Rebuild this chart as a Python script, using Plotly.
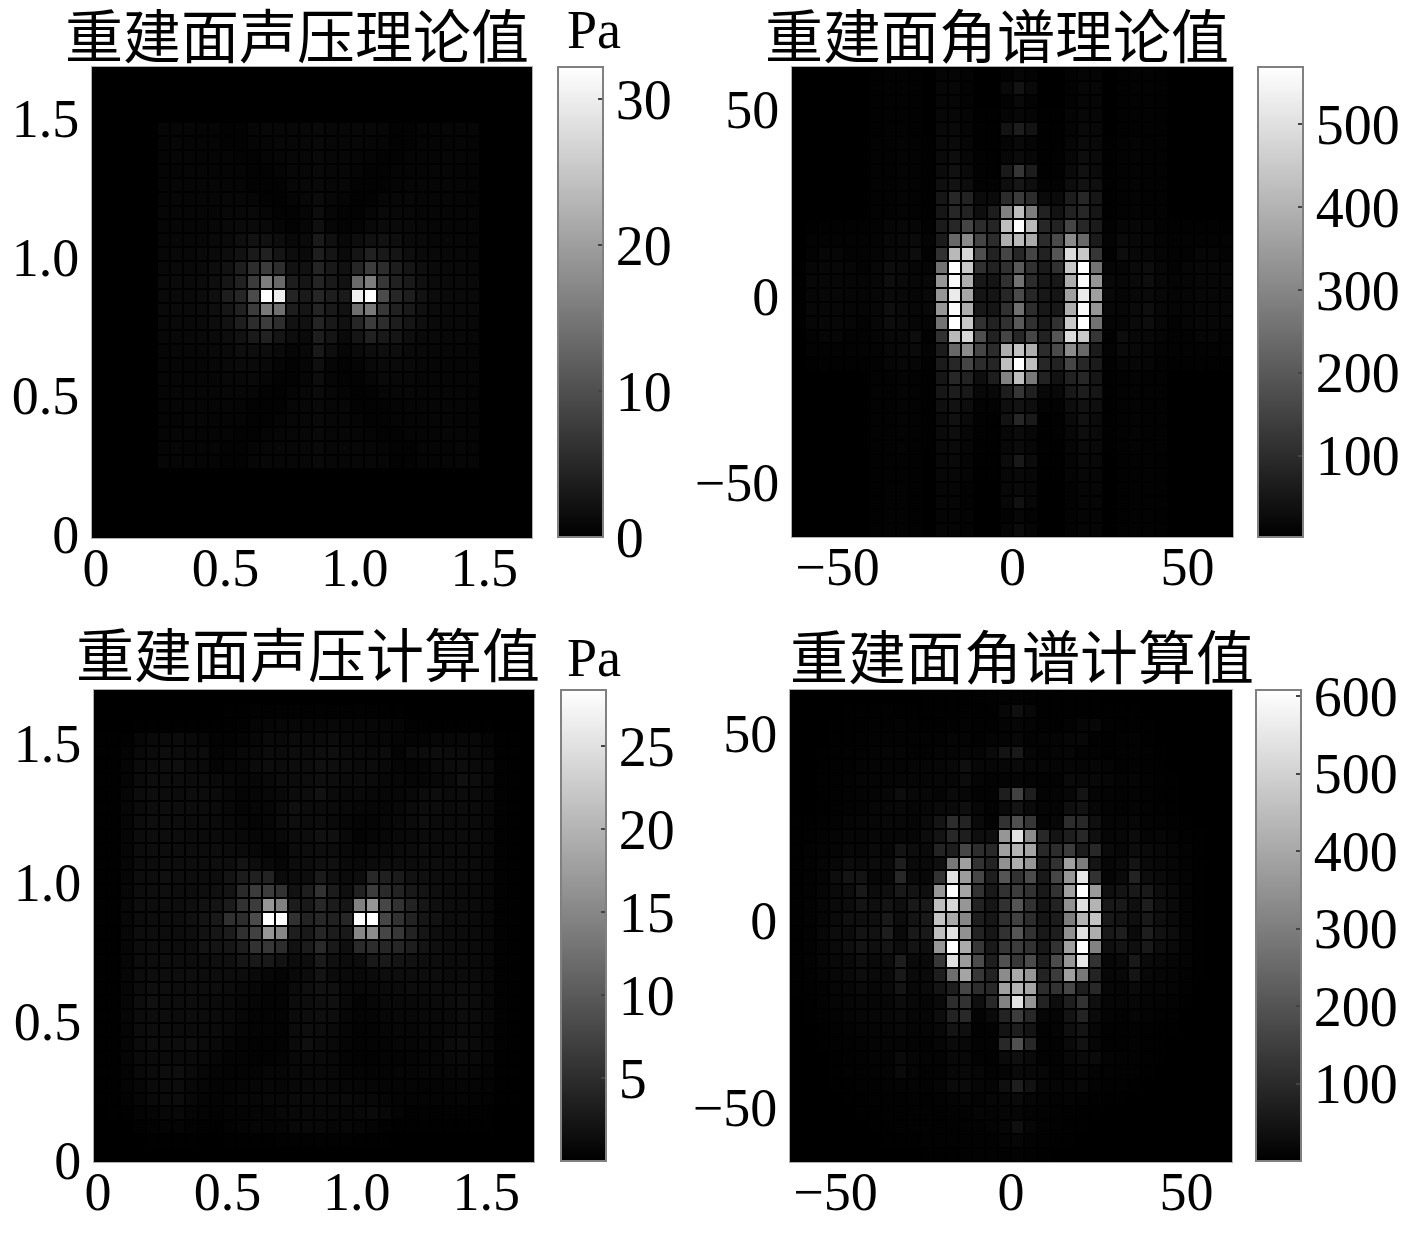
# plot.py - reconstructed sound pressure / angular spectrum maps

import plotly.graph_objects as go

W, H = 1417, 1233

# values, top row first, 34 x 34 cells
# pressure maps are in units of 0.1 Pa
PRESSURE_THEORY = [
    [0] * 34,
    [0] * 34,
    [0] * 34,
    [0] * 34,
    [0,0,0,0,0, 7,7,7,6,6,4,4,7,9,9,9,9,11,9,9,9,9,7,4,4,6,6,7,7,7, 0,0,0,0],
    [0,0,0,0,0, 6,7,6,6,6,4,4,6,7,9,9,9,11,9,9,9,7,6,4,4,6,6,6,7,6, 0,0,0,0],
    [0,0,0,0,0, 6,7,7,6,6,6,4,4,6,7,9,9,11,9,9,7,6,4,4,6,6,6,7,7,6, 0,0,0,0],
    [0,0,0,0,0, 6,6,7,7,6,6,6,4,4,6,9,9,11,9,9,6,4,4,6,6,6,7,7,6,6, 0,0,0,0],
    [0,0,0,0,0, 6,7,7,7,7,7,6,4,4,4,9,9,11,9,9,4,4,4,6,7,7,7,7,7,6, 0,0,0,0],
    [0,0,0,0,0, 6,7,8,8,8,9,9,7,4,3,6,9,14,9,6,3,4,7,9,9,8,8,8,7,6, 0,0,0,0],
    [0,0,0,0,0, 7,8,8,8,8,10,10,11,7,4,4,8,16,8,4,4,7,11,10,10,8,8,8,8,7, 0,0,0,0],
    [0,0,0,0,0, 7,8,8,8,9,11,12,13,11,6,4,8,19,8,4,6,11,13,12,11,9,8,8,8,7, 0,0,0,0],
    [0,0,0,0,0, 8,9,9,9,11,13,18,23,21,16,10,13,33,20,10,16,21,23,18,13,11,9,9,9,8, 0,0,0,0],
    [0,0,0,0,0, 9,10,10,11,13,16,23,33,42,26,16,13,38,26,13,26,42,31,26,18,13,11,10,10,9, 0,0,0,0],
    [0,0,0,0,0, 10,11,11,13,16,23,38,57,76,57,23,21,46,31,21,48,76,57,36,26,18,13,11,11,10, 0,0,0,0],
    [0,0,0,0,0, 11,12,12,14,18,28,42,76,158,132,36,26,46,33,23,132,158,70,42,33,20,14,12,12,11, 0,0,0,0],
    [0,0,0,0,0, 11,13,13,15,20,38,48,95,322,300,46,33,48,38,33,300,322,95,48,38,23,15,13,13,11, 0,0,0,0],
    [0,0,0,0,0, 11,12,12,14,18,28,42,76,152,139,36,26,46,33,23,139,152,70,42,33,20,14,12,12,11, 0,0,0,0],
    [0,0,0,0,0, 10,11,11,13,16,23,38,57,76,57,23,21,46,31,21,48,76,57,36,26,18,13,11,11,10, 0,0,0,0],
    [0,0,0,0,0, 9,10,10,11,13,16,23,33,42,26,16,13,38,26,13,26,42,31,26,18,13,11,10,10,9, 0,0,0,0],
    [0,0,0,0,0, 8,9,9,9,11,13,18,18,16,12,8,10,30,18,8,12,16,18,18,13,11,9,9,9,8, 0,0,0,0],
    [0,0,0,0,0, 7,8,8,8,9,11,12,13,11,6,4,8,19,8,4,6,11,13,12,11,9,8,8,8,7, 0,0,0,0],
    [0,0,0,0,0, 7,8,8,8,8,10,10,11,7,4,4,8,16,8,4,4,7,11,10,10,8,8,8,8,7, 0,0,0,0],
    [0,0,0,0,0, 6,7,8,8,8,9,9,7,4,3,6,9,14,9,6,3,4,7,9,9,8,8,8,7,6, 0,0,0,0],
    [0,0,0,0,0, 6,7,7,7,7,7,6,4,4,4,9,9,11,9,9,4,4,4,6,7,7,7,7,7,6, 0,0,0,0],
    [0,0,0,0,0, 6,6,7,7,6,6,6,4,4,6,9,9,11,9,9,6,4,4,6,6,6,7,7,6,6, 0,0,0,0],
    [0,0,0,0,0, 6,7,7,6,6,6,4,4,6,7,9,9,11,9,9,7,6,4,4,6,6,6,7,7,6, 0,0,0,0],
    [0,0,0,0,0, 6,7,6,6,6,4,4,6,7,9,9,9,11,9,9,9,7,6,4,4,6,6,6,7,6, 0,0,0,0],
    [0,0,0,0,0, 7,7,7,6,6,4,4,7,9,9,9,9,11,9,9,9,9,7,4,4,6,6,7,7,7, 0,0,0,0],
    [0] * 34,
    [0] * 34,
    [0] * 34,
    [0] * 34,
    [0] * 34,
]

SPECTRUM_THEORY = [
    [1,1,1,3,3,3,6,8,9,6,3, 13,13,9, 3,3, 8,16,8, 3,3, 9,13,13, 3,6,9,8,6,3,3,1,1,1],
    [1,1,1,3,3,3,6,8,9,6,3, 15,15,9, 3,3, 22,45,22, 3,3, 9,15,15, 3,6,9,8,6,3,3,1,1,1],
    [1,1,1,3,3,3,6,8,9,6,3, 15,15,9, 3,3, 9,22,9, 3,3, 9,15,15, 3,6,9,8,6,3,3,1,1,1],
    [1,1,1,3,3,3,6,8,9,6,3, 18,18,13, 4,4, 13,18,13, 4,4, 13,18,18, 3,6,9,8,6,3,3,1,1,1],
    [1,1,1,3,3,3,6,8,9,6,3, 20,22,13, 4,4, 45,67,45, 4,4, 13,22,20, 3,6,9,8,6,3,3,1,1,1],
    [1,1,1,3,3,3,8,9,11,8,4, 22,24,15, 4,4, 13,22,13, 4,4, 15,24,22, 4,8,11,9,8,3,3,1,1,1],
    [1,1,1,3,3,3,8,9,11,8,4, 24,31,18, 6,4, 18,27,18, 4,6, 18,31,24, 4,8,11,9,8,3,3,1,1,1],
    [1,1,1,3,3,3,8,9,11,8,4, 27,40,24, 6,4, 60,122,67, 4,6, 24,40,27, 4,8,11,9,8,3,3,1,1,1],
    [1,1,1,3,3,3,8,9,11,8,4, 36,42,31, 9,8, 33,52,33, 8,9, 31,42,36, 4,8,11,9,8,3,3,1,1,1],
    [1,1,1,3,3,3,8,9,11,8,4, 52,89,78, 27,24, 100,134,100, 24,24, 67,89,52, 4,8,11,9,8,3,3,1,1,1],
    [1,1,1,3,3,3,8,9,11,8,4, 52,89,78, 33,67, 290,424,279, 78,42, 78,89,52, 4,8,11,9,8,3,3,1,1,1],
    [1,4,6,6,6,6,8,15,18,15,6, 62,89,156, 100,85, 424,569,413, 89,78, 156,89,62, 6,15,18,15,8,6,6,6,6,4],
    [3,9,9,9,9,8,11,18,20,24,11, 62,234,312, 156,100, 390,413,379, 100,167, 312,234,62, 11,24,20,18,11,8,9,9,9,9],
    [3,9,15,15,9,8,13,20,20,31,6, 112,413,480, 178,78, 156,89,156, 78,190, 490,446,122, 6,31,20,20,13,8,9,15,15,9],
    [4,15,18,18,15,9,18,31,24,15,13, 256,569,446, 112,78, 112,200,112, 62,112, 446,569,256, 13,15,24,31,18,9,15,18,18,15],
    [4,18,18,18,15,13,18,33,24,18,20, 335,558,390, 56,49, 112,256,100, 56,56, 390,558,335, 20,18,24,33,18,13,15,18,18,18],
    [4,15,18,18,15,13,18,24,20,15,20, 335,524,368, 49,49, 89,167,89, 56,49, 357,524,357, 20,15,20,24,18,13,15,18,18,15],
    [4,18,18,18,15,13,18,33,24,18,20, 335,558,390, 56,49, 112,250,105, 56,56, 390,558,335, 20,18,24,33,18,13,15,18,18,18],
    [4,15,18,18,15,9,18,31,24,15,13, 256,569,446, 112,78, 112,200,112, 62,112, 446,569,256, 13,15,24,31,18,9,15,18,18,15],
    [3,9,15,15,9,8,13,20,20,31,6, 112,413,480, 178,78, 156,89,156, 78,190, 490,446,122, 6,31,20,20,13,8,9,15,15,9],
    [3,9,9,9,9,8,11,18,20,24,11, 62,234,312, 156,100, 390,435,390, 100,167, 312,234,62, 11,24,20,18,11,8,9,9,9,9],
    [1,4,6,6,6,6,8,15,18,15,6, 62,89,156, 100,85, 424,569,424, 89,78, 156,89,62, 6,15,18,15,8,6,6,6,6,4],
    [1,1,1,3,3,3,8,9,11,8,4, 52,89,78, 33,67, 290,424,268, 78,42, 78,89,52, 4,8,11,9,8,3,3,1,1,1],
    [1,1,1,3,3,3,8,9,11,8,4, 52,67,56, 20,20, 67,122,71, 20,20, 56,67,52, 4,8,11,9,8,3,3,1,1,1],
    [1,1,1,3,3,3,8,9,11,8,4, 36,42,31, 9,8, 33,45,33, 8,9, 31,42,36, 4,8,11,9,8,3,3,1,1,1],
    [1,1,1,3,3,3,8,9,11,8,4, 27,40,24, 6,4, 45,89,60, 4,6, 24,40,27, 4,8,11,9,8,3,3,1,1,1],
    [1,1,1,3,3,3,8,9,11,8,4, 24,31,18, 6,4, 18,27,18, 4,6, 18,31,24, 4,8,11,9,8,3,3,1,1,1],
    [1,1,1,3,3,3,8,9,11,8,4, 22,24,15, 4,4, 18,27,18, 4,4, 15,24,22, 4,8,11,9,8,3,3,1,1,1],
    [1,1,1,3,3,3,6,8,9,6,3, 20,22,13, 4,4, 27,58,27, 4,4, 13,22,20, 3,6,9,8,6,3,3,1,1,1],
    [1,1,1,3,3,3,6,8,9,6,3, 18,18,13, 4,4, 18,22,18, 4,4, 13,18,18, 3,6,9,8,6,3,3,1,1,1],
    [1,1,1,3,3,3,6,8,9,6,3, 15,15,9, 3,3, 18,22,18, 3,3, 9,15,15, 3,6,9,8,6,3,3,1,1,1],
    [1,1,1,3,3,3,6,8,9,6,3, 15,15,9, 3,3, 18,40,18, 3,3, 9,15,15, 3,6,9,8,6,3,3,1,1,1],
    [1,1,1,3,3,3,6,8,9,6,3, 13,13,9, 3,3, 9,18,9, 3,3, 9,13,13, 3,6,9,8,6,3,3,1,1,1],
    [1,1,1,3,3,3,6,8,9,6,3, 13,13,9, 3,3, 13,27,13, 3,3, 9,13,13, 3,6,9,8,6,3,3,1,1,1],
]

PRESSURE_CALC = [
    [0] * 34,
    [0,0,0,0,0,0,0,0,0,0, 1,1,2,2,2,2,2,2,2,2, 2,2,1,1,0,0,0,0,0,0, 0,0,0,0],
    [0,0,0,1,1,1,1,1,1,1, 1,2,6,7,8,8,8,8,9,8, 8,8,7,6,2,1,1,1,1,1, 1,0,0,0],
    [1,1,2,8,10,11,12,10,8,3, 3,5,8,11,10,12,11,12,13,10, 10,8,8,6,5,5,8,8,9,9, 6,1,1,0],
    [1,1,5,10,12,14,13,12,13,4, 6,9,10,13,12,14,13,16,17,13, 12,11,13,5,12,13,14,13,12,11, 8,1,1,0],
    [1,1,6,12,13,15,17,12,11,6, 8,8,12,14,13,14,15,18,16,14, 12,13,10,7,6,7,11,13,14,12, 10,2,1,0],
    [1,1,6,12,14,14,15,13,13,11, 10,8,8,10,13,13,15,17,14,12, 13,12,9,8,7,7,9,11,18,14, 10,2,1,0],
    [1,1,7,13,14,13,13,14,13,12, 9,6,7,9,10,13,14,20,12,10, 11,9,8,8,10,13,14,12,13,12, 9,2,1,0],
    [1,1,7,12,14,15,14,14,13,12, 9,6,7,8,12,18,13,13,12,10, 8,7,7,9,12,14,13,12,13,12, 9,2,1,0],
    [1,1,7,13,16,14,15,13,13,12, 10,8,6,8,13,16,13,14,11,8, 6,6,8,10,12,16,12,12,12,12, 9,2,1,0],
    [1,1,7,13,14,15,15,13,12,12, 11,10,8,8,10,13,15,19,18,10, 5,7,8,10,11,12,12,12,13,12, 9,2,1,0],
    [1,1,7,13,15,14,14,14,13,14, 13,12,9,6,6,13,14,16,14,10, 8,11,10,12,13,14,12,13,13,12, 9,2,1,0],
    [1,1,7,13,13,15,15,14,14,16, 16,22,14,10,7,13,14,18,18,11, 10,12,15,14,13,14,14,13,13,12, 9,2,1,0],
    [1,1,7,14,15,18,16,15,14,15, 22,31,36,39,12,13,15,30,18,12, 15,44,36,30,20,18,15,14,13,12, 9,2,1,0],
    [1,1,8,14,16,17,15,15,16,18, 22,47,67,67,56,20,33,56,31,17, 37,67,47,39,28,22,17,14,13,12, 9,2,1,0],
    [1,1,8,14,15,16,15,17,20,22, 31,56,67,167,144,31,28,44,31,24, 144,167,78,56,39,24,17,15,13,12, 9,2,1,0],
    [1,1,8,13,15,15,16,18,22,28, 53,50,83,284,284,56,39,44,37,42, 284,284,78,56,39,24,20,15,14,12, 9,2,1,0],
    [1,1,8,14,15,15,14,16,20,24, 31,53,72,167,150,33,28,42,31,28, 150,155,78,61,39,24,16,14,13,12, 9,2,1,0],
    [1,1,7,13,15,15,15,15,22,22, 24,33,56,61,50,20,31,47,28,17, 47,50,42,42,33,22,17,14,13,12, 9,2,1,0],
    [1,1,7,13,15,16,15,14,15,17, 18,24,28,28,20,13,15,30,18,13, 15,28,28,22,20,16,14,13,13,12, 9,2,1,0],
    [1,1,7,13,14,15,16,16,15,15, 15,14,11,8,6,10,13,22,12,11, 10,12,14,14,14,14,14,12,13,12, 9,2,1,0],
    [1,1,7,13,17,16,15,15,15,14, 13,10,8,5,5,12,17,20,18,10, 9,10,11,12,14,12,13,13,14,13, 9,2,1,0],
    [1,1,7,14,18,15,14,14,13,12, 11,9,7,5,4,13,15,17,18,10, 5,8,10,10,10,11,12,13,16,13, 9,2,1,0],
    [1,1,7,13,14,14,13,14,13,12, 11,8,5,5,4,12,15,16,14,8, 5,6,8,9,9,10,10,11,14,12, 9,2,1,0],
    [1,1,6,13,14,13,13,13,12,12, 10,7,4,4,3,12,16,15,11,7, 3,5,7,8,8,9,9,10,12,11, 8,2,1,0],
    [1,1,6,12,14,13,15,16,12,10, 7,5,3,3,3,11,17,12,10,6, 3,4,5,7,7,8,8,12,15,11, 8,2,1,0],
    [1,1,6,11,12,12,12,12,10,8, 5,4,3,3,4,9,11,11,9,5, 3,3,5,5,6,7,8,10,11,10, 7,1,1,0],
    [1,1,5,10,12,14,16,11,8,6, 4,4,5,7,7,9,10,10,9,6, 4,4,5,6,6,7,7,8,9,8, 6,1,1,0],
    [1,1,4,8,11,12,13,9,7,5, 4,6,7,8,7,9,10,11,9,8, 7,7,6,6,6,5,5,6,7,6, 4,1,1,0],
    [1,1,3,7,10,12,13,9,6,4, 6,8,8,9,9,11,11,11,11,11, 9,9,7,5,5,5,5,5,6,5, 3,1,1,0],
    [0,1,1,4,6,8,9,6,4,3, 4,5,6,6,8,9,10,10,9,8, 9,11,9,4,2,2,2,2,2,2, 1,0,0,0],
    [0,0,0,2,3,5,6,3,2,1, 3,5,6,6,6,9,9,9,7,8, 6,4,2,1,1,1,1,1,1,1, 1,0,0,0],
    [0,0,0,0,1,1,1,1,0,0, 1,1,1,1,2,2,2,2,2,2, 1,1,1,0,0,0,0,0,0,0, 0,0,0,0],
    [0] * 34,
]

SPECTRUM_CALC = [
    [0,0,0,0,0,0,0,0,0,0, 2,2,2,2,4,4,6,7,5,2, 2,2,2,2,1,1,1,0,0,0, 0,0,0,0],
    [0,0,0,0,2,2,2,4,2,2, 2,2,2,4,2,2,17,36,17,2, 2,2,2,2,2,2,2,0,0,0, 0,0,0,0],
    [0,0,0,2,2,2,4,4,7,5, 2,2,4,7,4,4,10,14,10,4, 2,7,14,17,4,2,4,2,0,0, 0,0,0,0],
    [0,0,0,2,2,4,7,7,7,7, 7,7,12,10,4,10,10,17,7,10, 10,14,17,5,2,4,7,2,0,0, 0,0,0,0],
    [0,0,2,2,4,7,10,12,12,7, 7,12,12,14,12,24,48,60,14,7, 12,14,7,7,2,4,7,4,2,0, 0,0,0,0],
    [0,0,2,4,5,10,12,12,12,14, 14,17,19,36,17,14,17,24,17,14, 12,14,12,14,10,5,7,5,2,0, 0,0,0,0],
    [0,0,4,5,7,12,12,12,14,14, 14,17,17,29,12,7,10,12,10,7, 7,24,19,19,14,10,12,7,4,2, 0,0,0,0],
    [0,0,2,5,7,10,12,17,31,19, 17,12,24,17,7,7,71,155,71,10, 10,17,48,12,10,7,10,7,2,2, 0,0,0,0],
    [0,0,2,4,7,10,14,17,19,14, 17,24,24,36,17,7,24,48,24,12, 10,36,43,17,10,7,10,7,4,2, 0,0,0,0],
    [2,2,4,7,12,14,17,19,19,14, 24,48,107,83,24,10,119,190,131,12, 17,107,95,36,12,14,17,10,7,4, 2,0,0,0],
    [2,5,7,12,14,14,17,17,17,14, 29,48,95,71,36,36,357,536,333,95, 48,71,95,36,14,17,29,12,14,10, 4,2,0,0],
    [2,7,10,12,19,17,24,17,48,31, 24,83,71,167,107,95,381,428,393,95, 107,143,67,95,24,17,31,24,19,14, 7,2,0,0],
    [2,7,12,17,29,24,29,24,71,24, 24,36,286,381,119,83,345,416,357,71, 119,381,298,48,17,24,48,24,19,14, 7,2,0,0],
    [2,7,12,31,48,48,17,19,95,24, 19,119,536,369,167,71,202,119,179,60, 167,357,547,119,12,24,83,31,24,14, 10,2,0,0],
    [2,7,14,24,31,60,29,36,60,48, 36,357,607,393,119,60,119,143,119,60, 119,381,607,369,36,48,60,60,31,24, 10,2,0,0],
    [2,7,14,24,29,48,36,48,36,60, 60,452,512,357,83,52,119,202,119,52, 83,345,536,428,60,60,36,71,36,24, 10,2,0,0],
    [2,7,14,24,36,36,36,60,31,48, 60,464,405,321,71,52,114,155,107,52, 67,298,428,464,60,48,36,60,36,24, 10,2,0,0],
    [2,7,17,29,29,48,43,71,24,60, 60,452,536,345,83,52,119,202,119,60, 71,345,536,416,60,71,24,71,43,31, 12,2,0,0],
    [2,7,14,24,36,48,36,48,31,48, 36,357,607,405,131,60,131,143,119,60, 119,381,607,309,36,48,36,60,31,24, 10,2,0,0],
    [2,7,14,19,24,36,24,31,71,24, 24,131,536,369,179,71,190,131,179,71, 179,357,547,119,17,24,60,24,19,14, 10,2,0,0],
    [2,5,12,17,24,31,24,24,60,24, 24,71,262,393,131,83,333,405,357,83, 143,381,286,83,17,19,48,19,14,12, 7,2,0,0],
    [2,4,7,14,17,24,17,24,48,19, 24,48,71,167,107,95,381,428,393,107, 119,167,71,95,17,14,24,14,14,12, 4,0,0,0],
    [0,2,7,12,14,17,14,17,29,19, 14,24,107,119,36,95,309,536,357,83, 31,71,119,36,14,14,17,12,10,7, 2,0,0,0],
    [0,2,4,7,12,14,14,19,24,14, 14,31,83,95,10,24,83,143,95,14, 12,48,83,24,10,7,12,10,5,4, 0,0,0,0],
    [0,0,2,5,7,12,12,14,19,12, 12,19,48,36,5,7,48,71,48,7, 10,36,48,14,5,5,7,5,2,2, 0,0,0,0],
    [0,0,2,4,5,7,10,12,12,10, 7,14,24,19,7,7,95,190,95,7, 7,24,43,14,5,5,7,5,2,0, 0,0,0,0],
    [0,0,0,2,5,7,10,10,24,14, 10,10,19,19,7,4,24,36,24,7, 7,19,24,24,10,7,7,4,2,0, 0,0,0,0],
    [0,0,0,2,4,5,7,10,24,12, 7,7,17,19,14,7,12,24,19,17, 7,12,17,10,7,5,5,2,0,0, 0,0,0,0],
    [0,0,0,2,2,4,5,7,10,10, 7,12,24,24,14,12,36,71,43,14, 12,14,19,7,4,4,2,0,0,0, 0,0,0,0],
    [0,0,0,0,2,2,4,4,5,7, 4,7,10,14,10,17,17,24,14,10, 7,10,7,4,2,2,0,0,0,0, 0,0,0,0],
    [0,0,0,0,0,2,2,4,5,4, 4,5,7,7,12,10,14,14,10,7, 5,5,2,2,0,0,0,0,0,0, 0,0,0,0],
    [0,0,0,0,0,0,2,2,4,4, 5,5,5,7,7,10,14,36,14,7, 4,2,2,0,0,0,0,0,0,0, 0,0,0,0],
    [0,0,0,0,0,0,0,2,2,2, 4,4,5,5,5,5,10,14,7,4, 2,2,0,0,0,0,0,0,0,0, 0,0,0,0],
    [0,0,0,0,0,0,0,0,0,0, 2,2,2,4,4,4,5,7,5,2, 0,0,0,0,0,0,0,0,0,0, 0,0,0,0],
]

TITLES = ["重建面声压理论值", "重建面角谱理论值", "重建面声压计算值", "重建面角谱计算值"]
PRESSURE_TICKS = [0, 0.5, 1.0, 1.5]
PRESSURE_LABELS = ["0", "0.5", "1.0", "1.5"]
SPECTRUM_TICKS = [-50, 0, 50]
SPECTRUM_LABELS = ["−50", "0", "50"]

SERIF = "Liberation Serif"
CJK = "Noto Sans CJK SC"
FRAME = "#b0b0b0"
BAR_FRAME = "#808080"


def to_pascal(rows):
    return [[v / 10 for v in r] for r in rows]


# pixel boxes of each panel: plot, colorbar, colour range, colorbar ticks, title anchor, y label shift
panels = [
    dict(z=to_pascal(PRESSURE_THEORY), box=(92, 532, 67, 538), bar=(558, 67, 537), zr=(0, 32.2),
         cticks=[0, 10, 20, 30], kind="p", title=(297, 33), pa=(594, 30), yshift=-4),
    dict(z=SPECTRUM_THEORY, box=(792, 1233, 67, 537), bar=(1258, 67, 537), zr=(2, 569),
         cticks=[100, 200, 300, 400, 500], kind="s", title=(997, 33), pa=None, yshift=-6),
    dict(z=to_pascal(PRESSURE_CALC), box=(94, 534, 690, 1162), bar=(561, 690, 1161), zr=(0, 28.4),
         cticks=[5, 10, 15, 20, 25], kind="p", title=(308, 652), pa=(594, 658), yshift=-2),
    dict(z=SPECTRUM_CALC, box=(790, 1232, 690, 1162), bar=(1256, 690, 1161), zr=(0, 608),
         cticks=[100, 200, 300, 400, 500, 600], kind="s", title=(1022, 654), pa=None, yshift=-6),
]

fig = go.Figure()
annotations = []
layout_axes = {}

for i, p in enumerate(panels):
    suffix = "" if i == 0 else str(i + 1)
    x0, x1, y0, y1 = p["box"]
    bx, by0, by1 = p["bar"]

    if p["kind"] == "p":
        cell = dict(x0=0.025, dx=0.05, y0=1.675, dy=-0.05)
        rng = [0, 1.7]
        ticks, labels = PRESSURE_TICKS, PRESSURE_LABELS
        xshift = 4
    else:
        cell = dict(x0=-61.15, dx=3.706, y0=61.15, dy=-3.706)
        rng = [-63, 63]
        ticks, labels = SPECTRUM_TICKS, SPECTRUM_LABELS
        xshift = 0

    fig.add_trace(go.Heatmap(
        z=p["z"], **cell, xaxis="x" + suffix, yaxis="y" + suffix,
        colorscale=[[0, "#000000"], [1, "#ffffff"]],
        zmin=p["zr"][0], zmax=p["zr"][1], xgap=2, ygap=2, hoverinfo="skip",
        colorbar=dict(
            xref="paper", yref="paper", x=bx / W, xanchor="left",
            y=1 - by1 / H, yanchor="bottom", len=(by1 - by0) / H, lenmode="fraction",
            thickness=45, thicknessmode="pixels", xpad=0, ypad=0,
            tickmode="array", tickvals=p["cticks"], ticktext=[str(t) for t in p["cticks"]],
            ticks="inside", ticklen=6, tickwidth=2, tickcolor="#444444",
            tickprefix="\u00a0\u200a", tickfont=dict(family=SERIF, size=56, color="#000000"),
            outlinecolor=BAR_FRAME, outlinewidth=2,
        ),
    ))

    axis_style = dict(
        range=rng, tickmode="array", tickvals=ticks, ticktext=labels, ticks="",
        showgrid=False, zeroline=False, showline=True, mirror=True,
        linecolor=FRAME, linewidth=1,
        tickfont=dict(family=SERIF, size=54, color="#000000"),
    )
    layout_axes["xaxis" + suffix] = dict(domain=[x0 / W, x1 / W], anchor="y" + suffix,
                                         ticklabelstandoff=-18, ticklabelshift=xshift, **axis_style)
    layout_axes["yaxis" + suffix] = dict(domain=[1 - y1 / H, 1 - y0 / H], anchor="x" + suffix,
                                         ticklabelstandoff=1, ticklabelshift=p["yshift"], **axis_style)

    annotations.append(dict(
        text=TITLES[i], x=p["title"][0] / W, y=1 - p["title"][1] / H, xref="paper", yref="paper",
        xanchor="center", yanchor="middle", showarrow=False,
        font=dict(family=CJK, size=58, color="#000000"),
    ))
    if p["pa"]:
        annotations.append(dict(
            text="Pa", x=p["pa"][0] / W, y=1 - p["pa"][1] / H, xref="paper", yref="paper",
            xanchor="center", yanchor="middle", showarrow=False,
            font=dict(family=SERIF, size=54, color="#000000"),
        ))

fig.update_layout(
    width=W, height=H, margin=dict(l=0, r=0, t=0, b=0, autoexpand=False),
    paper_bgcolor="#ffffff", plot_bgcolor="#000000",
    annotations=annotations, showlegend=False, **layout_axes,
)

# the browser's default body margin would push the figure off by 8 px
fig.write_html("out.html", config={"displayModeBar": False},
               post_script="document.body.style.margin = '0';")
